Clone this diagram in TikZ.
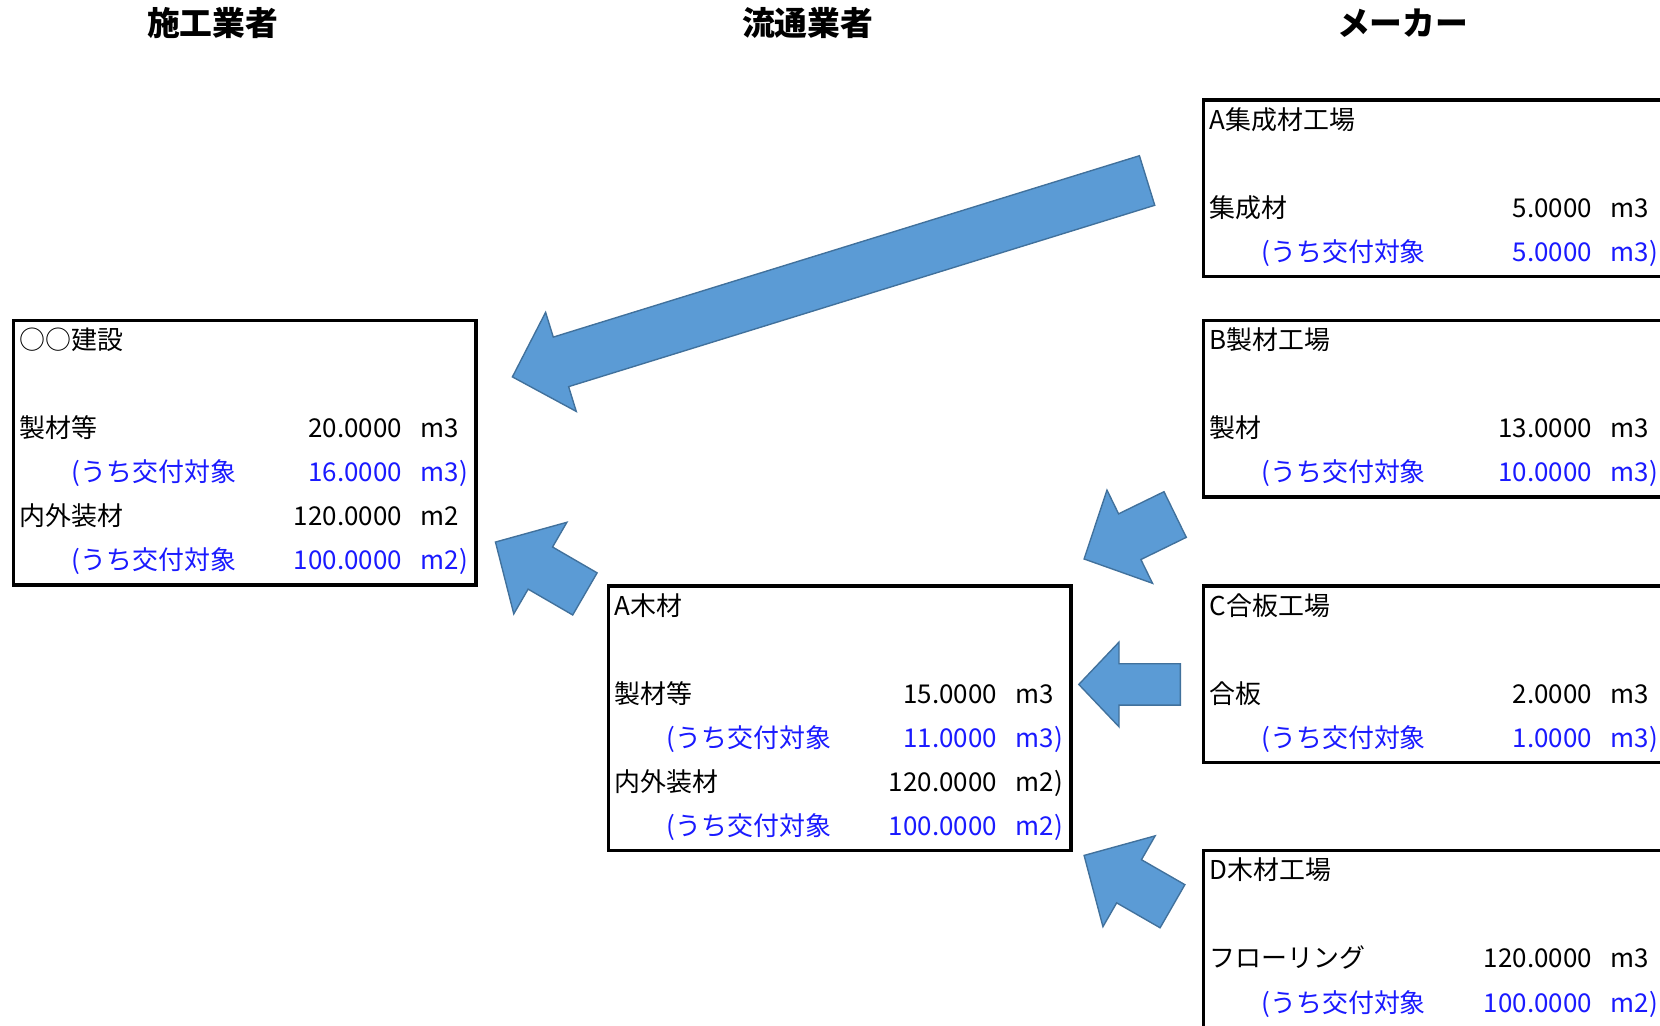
\documentclass[tikz,border=0pt]{standalone}
\usepackage{fontspec}
\setmainfont{Noto Sans CJK JP}
\usepackage{xcolor}
\usepackage{tikz}
\usetikzlibrary{matrix,calc}

\definecolor{subblue}{RGB}{26,26,255}
\definecolor{arrowfill}{RGB}{91,155,213}
\definecolor{arrowline}{RGB}{65,113,156}

\tikzset{
	databox/.style={matrix of nodes, draw, line width=3.2pt, inner sep=0pt, matrix anchor=north west, nodes in empty cells, row sep=0pt, column sep=0pt,
		nodes={font=\fontsize{24.5pt}{29pt}\selectfont, anchor=center, inner ysep=0pt, minimum height=41.67pt, text height=18pt, text depth=5pt},
		column 1/.style={nodes={text width=244pt, inner xsep=6pt, align=left}},
		column 2/.style={nodes={text width=111pt, inner xsep=0pt, align=right}},
		column 3/.style={nodes={text width=70pt, inner xsep=0pt, align=left, execute at begin node=\hspace*{18pt}}}},
	sub/.style={text=subblue},
	subhead/.style={text=subblue, execute at begin node=\hspace*{49pt}},
	heading/.style={font=\fontsize{31pt}{36pt}\selectfont\bfseries},
	flowarrow/.style={fill=arrowfill, draw=arrowline, line width=1.3pt, line join=miter}
}

% block arrow: tail, tip, shaft half width, head half width, head length
\newcommand{\blockarrow}[5]{%
	\coordinate (ba) at ($(#2)!#5!(#1)$);
	\draw[flowarrow] ($(#1)!#3!90:(#2)$) -- ($(ba)!#3!90:(#2)$) -- ($(ba)!#4!90:(#2)$) -- (#2)
		-- ($(ba)!#4!-90:(#2)$) -- ($(ba)!#3!-90:(#2)$) -- ($(#1)!#3!-90:(#2)$) -- cycle;
}

\begin{document}
\begin{tikzpicture}[x=1pt, y=-1pt]
	\useasboundingbox (0,0) rectangle (1568,969);

	% column headings
	\node[heading] (sekou) at (201,22) {施工業者};
	\node[heading] (ryutsu) at (763,22) {流通業者};
	\node[heading] (maker) at (1325,22) {メーカー};

	% boxes
	\matrix (kensetsu) at (11,301) [databox]{
		○○建設 & & \\
		& & \\
		製材等 & 20.0000 & m3 \\
		|[subhead]|(うち交付対象 & |[sub]|16.0000 & |[sub]|m3) \\
		内外装材 & 120.0000 & m2 \\
		|[subhead]|(うち交付対象 & |[sub]|100.0000 & |[sub]|m2) \\
	};
	\matrix (amoku) at (573,552) [databox]{
		A木材 & & \\
		& & \\
		製材等 & 15.0000 & m3 \\
		|[subhead]|(うち交付対象 & |[sub]|11.0000 & |[sub]|m3) \\
		内外装材 & 120.0000 & m2) \\
		|[subhead]|(うち交付対象 & |[sub]|100.0000 & |[sub]|m2) \\
	};
	\matrix (ashusei) at (1135,93) [databox]{
		A集成材工場 & & \\
		& & \\
		集成材 & 5.0000 & m3 \\
		|[subhead]|(うち交付対象 & |[sub]|5.0000 & |[sub]|m3) \\
	};
	\matrix (bseizai) at (1135,301) [databox]{
		B製材工場 & & \\
		& & \\
		製材 & 13.0000 & m3 \\
		|[subhead]|(うち交付対象 & |[sub]|10.0000 & |[sub]|m3) \\
	};
	\matrix (cgohan) at (1135,552) [databox]{
		C合板工場 & & \\
		& & \\
		合板 & 2.0000 & m3 \\
		|[subhead]|(うち交付対象 & |[sub]|1.0000 & |[sub]|m3) \\
	};
	\matrix (dmoku) at (1135,802) [databox]{
		D木材工場 & & \\
		& & \\
		フローリング & 120.0000 & m3 \\
		|[subhead]|(うち交付対象 & |[sub]|100.0000 & |[sub]|m2) \\
	};

	% arrow ends
	\coordinate (a1-tail) at (1083.5,170.5);
	\coordinate (a1-tip) at (484,356);
	\coordinate (a2-tail) at (552.5,561);
	\coordinate (a2-tip) at (468,512);
	\coordinate (a3-tail) at (1110,486);
	\coordinate (a3-tip) at (1024,528);
	\coordinate (a4-tail) at (1115,646.5);
	\coordinate (a4-tip) at (1019,646.5);
	\coordinate (a5-tail) at (1107.5,856);
	\coordinate (a5-tip) at (1024,808);

	\blockarrow{a1-tail}{a1-tip}{24.5pt}{49pt}{48pt}
	\blockarrow{a2-tail}{a2-tip}{23pt}{50pt}{49pt}
	\blockarrow{a3-tail}{a3-tip}{24pt}{49pt}{48pt}
	\blockarrow{a4-tail}{a4-tip}{19.5pt}{40pt}{38pt}
	\blockarrow{a5-tail}{a5-tip}{23.5pt}{49.5pt}{49pt}
\end{tikzpicture}
\end{document}
